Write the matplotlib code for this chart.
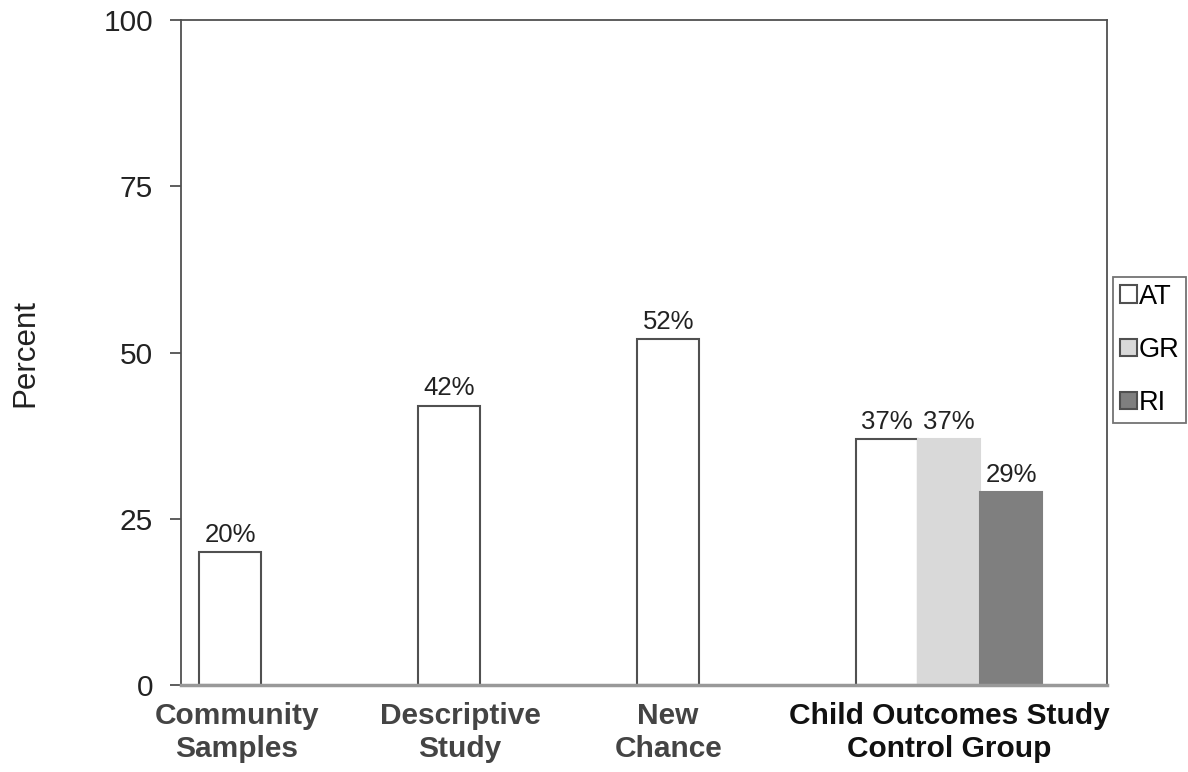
import matplotlib.pyplot as plt
import numpy as np

plt.rcParams['font.family'] = ['Liberation Sans', 'DejaVu Sans']

groups = ["Community\nSamples", "Descriptive\nStudy", "New\nChance",
          "Child Outcomes Study\nControl Group"]
series = ["AT", "GR", "RI"]
at_vals = [20, 42, 52, 37]
gr_vals = [None, None, None, 37]
ri_vals = [None, None, None, 29]

fills = ["white", "#d9d9d9", "#7f7f7f"]
edges = ["#505050", "#d9d9d9", "#7f7f7f"]

fig = plt.figure(figsize=(11.88, 7.72), dpi=100)
ax = fig.add_axes([181 / 1188, 1 - 685 / 772, (1107 - 181) / 1188, (685 - 20) / 772])

width = 62 / 219
x = np.arange(len(groups))
for k, (name, vals) in enumerate(zip(series, [at_vals, gr_vals, ri_vals])):
    xs = [x[i] + (k - 1) * width for i, v in enumerate(vals) if v is not None]
    hs = [v for v in vals if v is not None]
    bars = ax.bar(xs, hs, width, color=fills[k], edgecolor=edges[k],
                  linewidth=1.5, label=name)
    for b, v in zip(bars, hs):
        ax.text(b.get_x() + b.get_width() / 2, v + 0.8, f"{v}%",
                ha="center", va="bottom", fontsize=18.5, color="#222222")

ax.set_xlim(-0.507, 3.72)
ax.set_ylim(0, 100)
ax.set_yticks([0, 25, 50, 75, 100])
ax.tick_params(axis="y", labelsize=21.5, length=8, width=1.3, color="#505050",
               pad=12, labelcolor="#222222")
ax.set_xticks([])
ax.set_ylabel("Percent", fontsize=22.5, color="#222222")
ax.yaxis.set_label_coords(-0.152, 0.5)

for s in ["left", "top", "right"]:
    ax.spines[s].set_color("#505050")
    ax.spines[s].set_linewidth(1.3)
ax.spines["bottom"].set_color("#999999")
ax.spines["bottom"].set_linewidth(2.5)

# category labels sit under the first bar of the single-series groups
label_x = [x[0] - width + 0.03, x[1] - width + 0.05, x[2] - width, x[3]]
label_colors = ["#444444", "#444444", "#444444", "#111111"]
for lx, txt, c in zip(label_x, groups, label_colors):
    ax.text(lx, -2.6, txt, ha="center", va="top", fontsize=21.5,
            fontweight="bold", color=c, linespacing=1.2, clip_on=False)

leg = ax.legend(loc="upper left", bbox_to_anchor=(1113 / 1188, 1 - 277 / 772),
                bbox_transform=fig.transFigure, fontsize=19.5,
                frameon=True, fancybox=False, edgecolor="#505050",
                handlelength=0.62, handleheight=0.62, handletextpad=0.08,
                labelspacing=1.0, borderpad=0.25, borderaxespad=0)
leg.get_frame().set_linewidth(1.3)
for h in leg.legend_handles:
    h.set_edgecolor("#505050")

fig.savefig("out.png", dpi=100)
